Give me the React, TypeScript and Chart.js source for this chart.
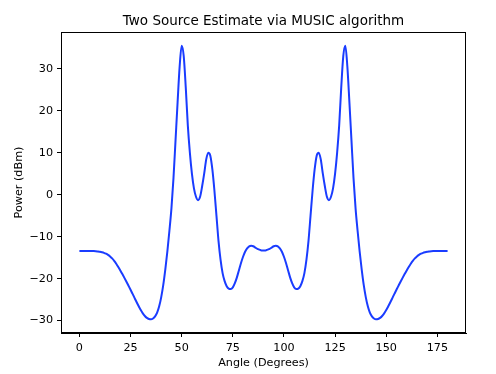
import React, { useEffect, useRef } from "react";
import { Chart, registerables } from "chart.js";

Chart.register(...registerables);

const chartTitle = "Two Source Estimate via MUSIC algorithm";
const xLabel = "Angle (Degrees)";
const yLabel = "Power (dBm)";

const angles = [
  0, 1, 2, 3, 4, 5, 6, 7, 8, 9, 10, 11, 12, 13, 14, 15, 16, 17, 18, 19,
  20, 21, 22, 23, 24, 25, 26, 27, 28, 29, 30, 31, 32, 33, 34, 35, 36, 37, 38, 39,
  40, 41, 42, 43, 44, 45, 46, 47, 48, 49, 50, 51, 52, 53, 54, 55, 56, 57, 58, 59,
  60, 61, 62, 63, 64, 65, 66, 67, 68, 69, 70, 71, 72, 73, 74, 75, 76, 77, 78, 79,
  80, 81, 82, 83, 84, 85, 86, 87, 88, 89, 90, 91, 92, 93, 94, 95, 96, 97, 98, 99,
  100, 101, 102, 103, 104, 105, 106, 107, 108, 109, 110, 111, 112, 113, 114, 115, 116, 117, 118, 119,
  120, 121, 122, 123, 124, 125, 126, 127, 128, 129, 130, 131, 132, 133, 134, 135, 136, 137, 138, 139,
  140, 141, 142, 143, 144, 145, 146, 147, 148, 149, 150, 151, 152, 153, 154, 155, 156, 157, 158, 159,
  160, 161, 162, 163, 164, 165, 166, 167, 168, 169, 170, 171, 172, 173, 174, 175, 176, 177, 178, 179,
  180,
];

const power = [
  -13.4, -13.4, -13.4, -13.4, -13.4, -13.4, -13.4, -13.42, -13.46, -13.53,
  -13.61, -13.72, -13.86, -14.07, -14.36, -14.72, -15.19, -15.77, -16.45, -17.22,
  -18.05, -18.92, -19.82, -20.74, -21.69, -22.65, -23.64, -24.64, -25.64, -26.6,
  -27.5, -28.27, -28.9, -29.35, -29.61, -29.7, -29.5, -29.0, -28.1, -26.6,
  -24.4, -21.5, -17.8, -13.5, -8.6, -3.2, 4.0, 13.0, 22.0, 30.5,
  35.5, 33.0, 25.5, 16.5, 10.0, 5.0, 1.5, -0.5, -1.3, -0.5,
  2.0, 5.0, 8.4, 10.0, 9.3, 6.0, 1.0, -5.0, -11.0, -15.5,
  -18.7, -20.6, -21.8, -22.4, -22.5, -22.1, -21.1, -19.7, -18.0, -16.3,
  -14.8, -13.6, -12.8, -12.3, -12.2, -12.3, -12.6, -12.9, -13.1, -13.3,
  -13.3, -13.3, -13.1, -12.9, -12.6, -12.3, -12.2, -12.3, -12.8, -13.6,
  -14.8, -16.3, -18.0, -19.7, -21.1, -22.1, -22.5, -22.4, -21.8, -20.6,
  -18.7, -15.5, -11.0, -5.0, 1.0, 6.0, 9.3, 10.0, 8.4, 5.0,
  2.0, -0.5, -1.3, -0.5, 1.5, 5.0, 10.0, 16.5, 25.5, 33.0,
  35.5, 30.5, 22.0, 13.0, 4.0, -3.2, -8.6, -13.5, -17.8, -21.5,
  -24.4, -26.6, -28.1, -29.0, -29.5, -29.7, -29.61, -29.35, -28.9, -28.27,
  -27.5, -26.6, -25.64, -24.64, -23.64, -22.65, -21.69, -20.74, -19.82, -18.92,
  -18.05, -17.22, -16.45, -15.77, -15.19, -14.72, -14.36, -14.07, -13.86, -13.72,
  -13.61, -13.53, -13.46, -13.42, -13.4, -13.4, -13.4, -13.4, -13.4, -13.4,
  -13.4,
];

const xTicks = [0, 25, 50, 75, 100, 125, 150, 175];
const yTicks = [-30, -20, -10, 0, 10, 20, 30];

const FONT = "'DejaVu Sans', sans-serif";

const framePlugin = {
  id: "frame",
  afterDraw(chart: any) {
    const { ctx, chartArea } = chart;
    const l = Math.round(chartArea.left) + 0.5;
    const t = Math.round(chartArea.top) + 0.5;
    const r = Math.round(chartArea.right) - 0.5;
    const b = Math.round(chartArea.bottom) - 0.5;
    ctx.save();
    ctx.strokeStyle = "#000";
    ctx.lineWidth = 1;
    ctx.strokeRect(l, t, r - l, b - t);
    ctx.fillStyle = "#000";
    ctx.font = `13.5px ${FONT}`;
    ctx.textAlign = "center";
    ctx.textBaseline = "middle";
    ctx.fillText(chartTitle, (chartArea.left + chartArea.right) / 2, 21);
    ctx.restore();
  },
};

export default function App() {
  const ref = useRef<HTMLCanvasElement | null>(null);

  useEffect(() => {
    if (!ref.current) return;
    const points = angles.map((a, i) => ({ x: a, y: power[i] }));
    const chart = new Chart(ref.current, {
      type: "line",
      data: {
        datasets: [
          {
            data: points,
            borderColor: "#1a3cff",
            borderWidth: 2,
            pointRadius: 0,
            cubicInterpolationMode: "monotone",
            fill: false,
          },
        ],
      },
      options: {
        animation: false,
        responsive: false,
        maintainAspectRatio: false,
        layout: { padding: { left: 0, right: 30, top: 32, bottom: 0 } },
        plugins: {
          legend: { display: false },
          tooltip: { enabled: false },
          title: { display: false },
        },
        scales: {
          x: {
            type: "linear",
            min: -9,
            max: 189,
            afterBuildTicks: (scale: any) => {
              scale.ticks = xTicks.map((v) => ({ value: v }));
            },
            afterFit: (scale: any) => {
              scale.height = 41;
            },
            ticks: {
              color: "#000",
              font: { family: FONT, size: 11.2 },
              padding: 4,
              maxRotation: 0,
              autoSkip: false,
              callback: (v: any) => String(v).replace("-", "\u2212"),
            },
            grid: {
              drawOnChartArea: false,
              drawTicks: true,
              tickLength: 4,
              color: "#000",
            },
            border: { display: true, color: "#000", width: 1 },
            title: {
              display: true,
              text: xLabel,
              color: "#000",
              font: { family: FONT, size: 11.2, lineHeight: 1.2 },
              padding: { top: 0, bottom: 4 },
            },
          },
          y: {
            type: "linear",
            min: -32.96,
            max: 38.76,
            afterBuildTicks: (scale: any) => {
              scale.ticks = yTicks.map((v) => ({ value: v }));
            },
            afterFit: (scale: any) => {
              scale.width = 61;
            },
            ticks: {
              color: "#000",
              font: { family: FONT, size: 11.2 },
              padding: 4,
              autoSkip: false,
              callback: (v: any) => String(v).replace("-", "\u2212"),
            },
            grid: {
              drawOnChartArea: false,
              drawTicks: true,
              tickLength: 4,
              color: "#000",
            },
            border: { display: true, color: "#000", width: 1 },
            title: {
              display: true,
              text: yLabel,
              color: "#000",
              font: { family: FONT, size: 11.2, lineHeight: 1.2 },
              padding: { top: 12, bottom: 0 },
            },
          },
        },
      },
      plugins: [framePlugin],
    } as any);
    return () => chart.destroy();
  }, []);

  return (
    <div style={{ position: "fixed", left: 0, top: 0, width: 496, height: 374, background: "#fff" }}>
      <canvas ref={ref} width={496} height={374} style={{ width: 496, height: 374, display: "block" }} />
    </div>
  );
}
